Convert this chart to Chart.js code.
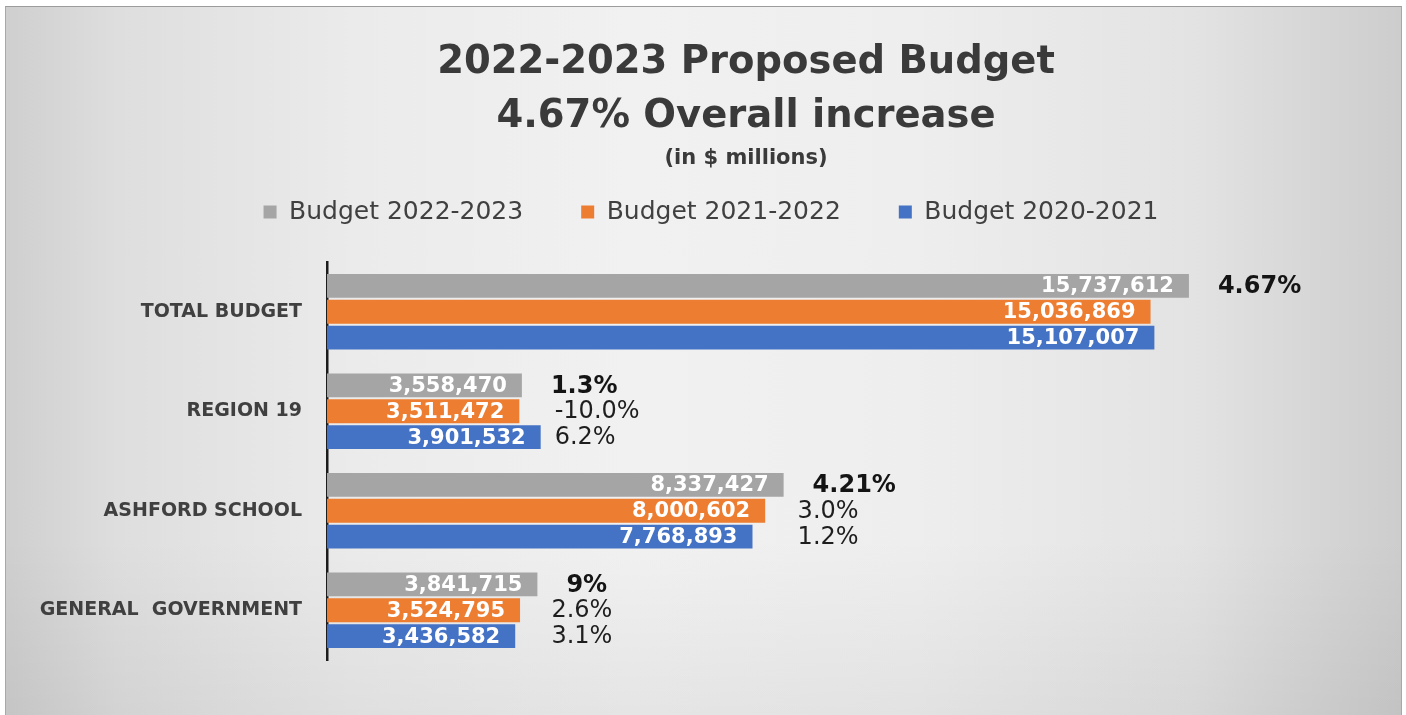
<!DOCTYPE html>
<html>
<head>
<meta charset="utf-8">
<script src="https://cdn.jsdelivr.net/npm/chart.js@4.4.1/dist/chart.umd.min.js"></script>
<style>
  html, body { margin: 0; padding: 0; background: #ffffff; width: 1406px; height: 715px; overflow: hidden; }
  #frame {
    position: absolute; left: 5px; top: 6px; width: 1395px; height: 709px;
    border-top: 1px solid #9c9c9c; border-left: 1px solid #a8a8a8; border-right: 1px solid #a8a8a8;
    background:
      linear-gradient(to bottom, rgba(0,0,0,0) 0%, rgba(0,0,0,0) 75%, rgba(0,0,0,0.05) 100%),
      linear-gradient(to right, #cfcfcf 0%, #dedede 8%, #ebebeb 25%, #f1f1f1 45%, #eeeeee 65%, #e3e3e3 85%, #cdcdcd 100%);
  }
  #c { display: block; position: absolute; left: 0; top: 0; }
  .ttl {
    position: absolute; left: 240px; width: 1000px; text-align: center;
    font-family: 'DejaVu Sans', 'Open Sans', sans-serif; font-weight: bold; color: #3a3a3a;
    white-space: pre;
  }
  #title { top: 25.5px; font-size: 38.5px; line-height: 54px; }
  #subtitle { top: 138px; font-size: 21px; line-height: 25px; }
</style>
</head>
<body>
<div id="frame">
  <canvas id="c" width="1395" height="708" style="width:1395px;height:708px"></canvas>
  <div id="title" class="ttl"></div>
  <div id="subtitle" class="ttl"></div>
</div>
<script>
// ---- data ----
const categories = ["TOTAL BUDGET", "REGION 19", "ASHFORD SCHOOL", "GENERAL  GOVERNMENT"];
const seriesNames = ["Budget 2022-2023", "Budget 2021-2022", "Budget 2020-2021"];
const budget2223 = [15737612, 3558470, 8337427, 3841715];
const budget2122 = [15036869, 3511472, 8000602, 3524795];
const budget2021 = [15107007, 3901532, 7768893, 3436582];
const pct2223 = ["4.67%", "1.3%", "4.21%", "9%"];
const pct2122 = ["", "-10.0%", "3.0%", "2.6%"];
const pct2021 = ["", "6.2%", "1.2%", "3.1%"];
const titleLines = ["2022-2023 Proposed Budget", "4.67% Overall increase"];
const subtitleText = "(in $ millions)";

document.getElementById('title').textContent = titleLines.join("\n");
document.getElementById('subtitle').textContent = subtitleText;

// ---- style ----
const colors = ["#a5a5a5", "#ed7d31", "#4472c4"];
const FONT = "'DejaVu Sans', 'Open Sans', sans-serif";
Chart.defaults.font.family = FONT;

const pctSets = [pct2223, pct2122, pct2021];

const labelPlugin = {
  id: 'barLabels',
  afterDatasetsDraw(chart) {
    const ctx = chart.ctx;
    const metas = chart.data.datasets.map((d, i) => chart.getDatasetMeta(i));
    ctx.save();
    ctx.textBaseline = 'middle';
    metas.forEach((meta, di) => {
      meta.data.forEach((bar, i) => {
        const v = chart.data.datasets[di].data[i];
        ctx.font = "bold 21px " + FONT;
        ctx.fillStyle = '#ffffff';
        ctx.textAlign = 'right';
        ctx.fillText(v.toLocaleString('en-US'), bar.x - 15, bar.y + 1);
        const p = pctSets[di][i];
        if (p) {
          let x;
          if (di === 0) {
            x = bar.x + 29;
            ctx.font = "bold 24px " + FONT;
            ctx.fillStyle = '#141414';
          } else {
            const maxEnd = Math.max(...metas.map(m => m.data[i].x));
            x = maxEnd + 14;
            ctx.font = "24px " + FONT;
            ctx.fillStyle = '#1e1e1e';
          }
          ctx.textAlign = 'left';
          ctx.fillText(p, x, bar.y + 1);
        }
      });
    });
    ctx.restore();
  }
};

new Chart(document.getElementById('c'), {
  type: 'bar',
  data: {
    labels: categories,
    datasets: [
      { label: seriesNames[0], data: budget2223, backgroundColor: colors[0] },
      { label: seriesNames[1], data: budget2122, backgroundColor: colors[1] },
      { label: seriesNames[2], data: budget2021, backgroundColor: colors[2] }
    ]
  },
  options: {
    indexAxis: 'y',
    responsive: false,
    animation: false,
    devicePixelRatio: 1,
    categoryPercentage: 0.78,
    barPercentage: 0.92,
    layout: { padding: { left: 0, right: -15, top: 134.5, bottom: 55 } },
    plugins: {
      title: { display: false },
      legend: {
        display: true,
        position: 'top',
        labels: {
          color: '#404040',
          font: { family: FONT, size: 25 },
          boxWidth: 13,
          boxHeight: 13,
          padding: 58
        }
      },
      tooltip: { enabled: false }
    },
    scales: {
      x: {
        position: 'top',
        min: 0,
        max: 19610000,
        display: true,
        ticks: { display: false },
        grid: { display: false, drawTicks: false },
        border: { display: false },
        afterFit(s) { s.height = 27.5; }
      },
      y: {
        grid: { display: false, drawTicks: false },
        border: { display: true, color: '#1c1c1c', width: 2.5 },
        ticks: {
          color: '#404040',
          padding: 25,
          font: { family: FONT, size: 19, weight: 'bold' }
        },
        afterFit(s) { s.width = 321; }
      }
    }
  },
  plugins: [labelPlugin]
});
</script>
</body>
</html>
